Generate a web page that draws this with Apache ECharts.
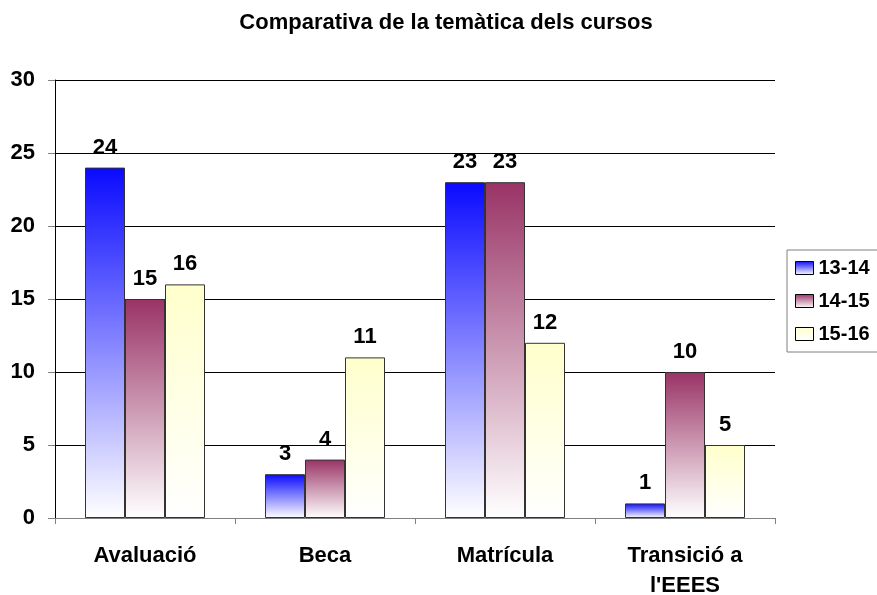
<!DOCTYPE html>
<html><head><meta charset="utf-8">
<script src="https://cdn.jsdelivr.net/npm/echarts@6/dist/echarts.min.js"></script>
<style>html,body{margin:0;padding:0;background:#fff}#c{width:877px;height:595px}</style>
</head><body><div id="c"></div>
<script>
const categories = ['Avaluació', 'Beca', 'Matrícula', "Transició a\nl'EEES"];
const seriesNames = ['13-14', '14-15', '15-16'];
const values1314 = [24, 3, 23, 1];
const values1415 = [15, 4, 23, 10];
const values1516 = [16, 11, 12, 5];
const yTicks = { min: 0, max: 30, interval: 5 };

const FONT = '"Liberation Sans", Arial, sans-serif';
function grad(c) {
  return { type: 'linear', x: 0, y: 0, x2: 0, y2: 1,
    colorStops: [{ offset: 0, color: c }, { offset: 1, color: '#ffffff' }] };
}
const topColors = ['#0a0aff', '#993366', '#ffffcc'];
const data = [values1314, values1415, values1516];

const chart = echarts.init(document.getElementById('c'), null, { renderer: 'canvas' });
chart.setOption({
  animation: false,
  backgroundColor: '#fff',
  title: {
    text: 'Comparativa de la temàtica dels cursos',
    left: 441, top: 7, textAlign: 'center',
    textStyle: { fontFamily: FONT, fontWeight: 'bold', fontSize: 22, color: '#000' }
  },
  legend: {
    orient: 'vertical', left: 787, top: 250,
    itemWidth: 18, itemHeight: 13, itemGap: 13,
    padding: [8, 20, 8, 8],
    borderColor: '#808080', borderWidth: 1,
    textStyle: { fontFamily: FONT, fontWeight: 'bold', fontSize: 20, color: '#000' },
    data: seriesNames.map((n, i) => ({ name: n, icon: 'rect',
      itemStyle: { color: grad(topColors[i]), borderColor: '#000', borderWidth: 1 } }))
  },
  grid: { left: 55, right: 102, top: 80, bottom: 77, containLabel: false, outerBoundsMode: 'none' },
  xAxis: {
    type: 'category', data: categories,
    axisLine: { lineStyle: { color: '#808080', width: 1 } },
    axisTick: { show: true, length: 6, lineStyle: { color: '#808080' } },
    axisLabel: { fontFamily: FONT, fontWeight: 'bold', fontSize: 22, color: '#000', margin: 23, lineHeight: 30 }
  },
  yAxis: {
    type: 'value', min: yTicks.min, max: yTicks.max, interval: yTicks.interval,
    axisLine: { show: true, lineStyle: { color: '#000', width: 1 } },
    axisTick: { show: true, length: 7, inside: false, lineStyle: { color: '#808080' } },
    splitLine: { lineStyle: { color: '#000', width: 1 } },
    axisLabel: { fontFamily: FONT, fontWeight: 'bold', fontSize: 22, color: '#000', margin: 20 }
  },
  series: seriesNames.map((n, i) => ({
    name: n, type: 'bar', data: data[i],
    barWidth: 40, barGap: '0%',
    itemStyle: { color: grad(topColors[i]), borderColor: '#333', borderWidth: 1 },
    label: { show: true, position: 'top', distance: 9,
      fontFamily: FONT, fontWeight: 'bold', fontSize: 22, color: '#000' }
  }))
});
</script></body></html>
